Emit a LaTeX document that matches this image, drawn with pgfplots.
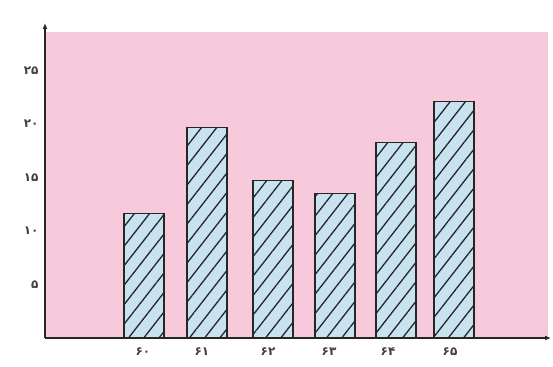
\documentclass[border=0pt]{standalone}
\usepackage{fontspec}
\usepackage{pgfplots}
\pgfplotsset{compat=1.18}
\usetikzlibrary{patterns.meta,arrows.meta}
\newfontfamily\persianfont{DejaVu Sans}
\definecolor{bgpink}{RGB}{246,201,219}
\definecolor{barblue}{RGB}{200,226,240}
\begin{document}
\begin{tikzpicture}
\useasboundingbox (-45pt,-28pt) rectangle (508pt,338pt);
\begin{axis}[
  scale only axis,
  width=503pt, height=306pt,
  xmin=0, xmax=503,
  ymin=0, ymax=28.6,
  axis lines=left,
  axis background/.style={fill=bgpink},
  every outer x axis line/.append style={line width=1.3pt, black!85, shorten >=-3pt, -{Latex[length=6pt,width=5pt]}},
  every outer y axis line/.append style={line width=1.3pt, black!85, shorten >=-9pt, -{Latex[length=6pt,width=5pt]}},
  xtick={98,157,223,284,343,405},
  xticklabels={۶۰,۶۱,۶۲,۶۳,۶۴,۶۵},
  ytick={5,10,15,20,25},
  yticklabels={۵,۱۰,۱۵,۲۰,۲۵},
  major tick length=0pt,
  tick label style={font=\persianfont\bfseries\fontsize{12}{14}\selectfont, text=black!75},
  xticklabel style={yshift=-6pt},
  yticklabel style={xshift=-3pt},
  clip=false,
]
\addplot[ybar, bar width=40, draw=black!85, line width=1.2pt, fill=barblue,
  postaction={pattern={Lines[angle=52,distance=12pt,line width=1.3pt]}, pattern color=black!85}]
  coordinates {(99,11.6) (162,19.7) (228,14.7) (290,13.5) (351,18.3) (409,22.1)};
\end{axis}
\end{tikzpicture}
\end{document}
